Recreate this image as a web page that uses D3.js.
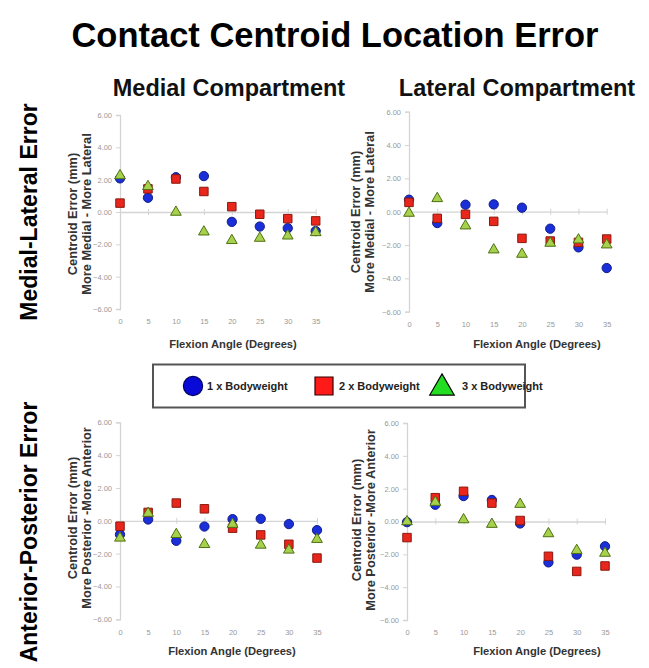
<!DOCTYPE html>
<html>
<head>
<meta charset="utf-8">
<script src="https://cdn.jsdelivr.net/npm/d3@7"></script>
<style>
  html, body { margin: 0; padding: 0; background: #fff; }
  svg { display: block; font-family: "Liberation Sans", Arial, sans-serif; }
</style>
</head>
<body>
<svg id="chart" width="649" height="668"></svg>
<script>
// ---- Data ----
const angles = [0, 5, 10, 15, 20, 25, 30, 35];
const seriesNames = ["1 x Bodyweight", "2 x Bodyweight", "3 x Bodyweight"];
const yTicks = [-6, -4, -2, 0, 2, 4, 6];

// Medial compartment, medial-lateral error (mm)
const medialML_1x = [2.08, 0.88, 2.15, 2.22, -0.61, -0.90, -1.00, -1.18];
const medialML_2x = [0.55, 1.43, 2.04, 1.27, 0.33, -0.14, -0.41, -0.55];
const medialML_3x = [2.30, 1.63, 0.04, -1.18, -1.71, -1.57, -1.43, -1.22];

// Lateral compartment, medial-lateral error (mm)
const lateralML_1x = [0.72, -0.68, 0.42, 0.44, 0.24, -1.02, -2.14, -3.38];
const lateralML_2x = [0.56, -0.40, -0.16, -0.58, -1.60, -1.76, -1.84, -1.64];
const lateralML_3x = [-0.04, 0.84, -0.80, -2.24, -2.50, -1.84, -1.64, -1.94];

// Medial compartment, anterior-posterior error (mm)
const medialAP_1x = [-0.84, 0.08, -1.22, -0.35, 0.10, 0.12, -0.20, -0.57];
const medialAP_2x = [-0.33, 0.51, 1.08, 0.73, -0.45, -0.86, -1.43, -2.27];
const medialAP_3x = [-1.00, 0.51, -0.78, -1.39, -0.16, -1.43, -1.73, -1.08];

// Lateral compartment, anterior-posterior error (mm)
const lateralAP_1x = [-0.04, 1.02, 1.55, 1.31, -0.12, -2.49, -2.02, -1.51];
const lateralAP_2x = [-0.98, 1.45, 1.84, 1.12, 0.06, -2.12, -3.04, -2.71];
const lateralAP_3x = [0.04, 1.22, 0.16, -0.12, 1.10, -0.69, -1.71, -1.88];

// ---- Layout ----
const panels = [
  { series: [medialML_1x, medialML_2x, medialML_3x], x0: 120, x1: 315.7, yTop: 115, yBot: 309,
    yLab: ["Centroid Error (mm)", "More Medial - More Lateral"], labX: 72.5, labY: 214, titleX: 233, titleY: 348 },
  { series: [lateralML_1x, lateralML_2x, lateralML_3x], x0: 409, x1: 606.7, yTop: 111.7, yBot: 311.7,
    yLab: ["Centroid Error (mm)", "More Medial - More Lateral"], labX: 355.5, labY: 212, titleX: 537, titleY: 348 },
  { series: [medialAP_1x, medialAP_2x, medialAP_3x], x0: 120, x1: 317, yTop: 422.3, yBot: 619.3,
    yLab: ["Centroid Error (mm)", "More Posterior -More Anterior"], labX: 72.5, labY: 518, titleX: 232, titleY: 655 },
  { series: [lateralAP_1x, lateralAP_2x, lateralAP_3x], x0: 407, x1: 605, yTop: 423, yBot: 620,
    yLab: ["Centroid Error (mm)", "More Posterior -More Anterior"], labX: 357, labY: 520, titleX: 537, titleY: 655 }
];

const svg = d3.select("#chart");
svg.append("rect").attr("width", 649).attr("height", 668).attr("fill", "#fff");

// Titles
svg.append("text").attr("x", 335).attr("y", 47).attr("text-anchor", "middle")
  .attr("font-size", 34.5).attr("font-weight", "bold").attr("fill", "#000")
  .text("Contact Centroid Location Error");
svg.append("text").attr("x", 229).attr("y", 96).attr("text-anchor", "middle")
  .attr("font-size", 23.5).attr("font-weight", "bold").attr("fill", "#111")
  .text("Medial Compartment");
svg.append("text").attr("x", 517).attr("y", 96).attr("text-anchor", "middle")
  .attr("font-size", 23.5).attr("font-weight", "bold").attr("fill", "#111")
  .text("Lateral Compartment");

// Row labels
svg.append("text").attr("transform", "translate(37,212) rotate(-90)").attr("text-anchor", "middle")
  .attr("font-size", 23).attr("font-weight", "bold").attr("fill", "#000")
  .text("Medial-Lateral Error");
svg.append("text").attr("transform", "translate(37,532) rotate(-90)").attr("text-anchor", "middle")
  .attr("font-size", 23).attr("font-weight", "bold").attr("fill", "#000")
  .text("Anterior-Posterior Error");

const markerStyles = [
  { shape: d3.symbolCircle, size: 68, fill: "#1a2fd8", stroke: "#101c8a" },
  { shape: d3.symbolSquare, size: 72, fill: "#e8261c", stroke: "#8a1a10" },
  { shape: d3.symbolTriangle, size: 50, fill: "#a6d14a", stroke: "#4f7016" }
];

panels.forEach(p => {
  const x = d3.scaleLinear().domain([0, 35]).range([p.x0, p.x1]);
  const y = d3.scaleLinear().domain([-6, 6]).range([p.yBot, p.yTop]);
  const g = svg.append("g");

  // y axis
  const yAxis = d3.axisLeft(y).tickValues(yTicks).tickSize(4).tickPadding(4)
    .tickFormat(d => d3.format(".2f")(d));
  const ya = g.append("g").attr("transform", `translate(${x(0)},0)`).call(yAxis);
  ya.select(".domain").attr("stroke", "#d4d4d4").attr("stroke-width", 1.3);
  ya.selectAll(".tick line").attr("stroke", "#d4d4d4");
  ya.selectAll(".tick text").attr("fill", "#999").attr("font-size", 7.5).attr("font-family", "Liberation Sans, Arial, sans-serif");

  // x axis line at zero with ticks crossing
  const xAxis = d3.axisBottom(x).tickValues(angles).tickSize(0).tickSizeOuter(0).tickFormat("");
  const xa = g.append("g").attr("transform", `translate(0,${y(0)})`).call(xAxis);
  xa.select(".domain").attr("stroke", "#d4d4d4").attr("stroke-width", 1.3);
  xa.selectAll(".tick").append("line").attr("y1", -3).attr("y2", 3).attr("stroke", "#d4d4d4");

  // x tick labels at bottom
  const xl = d3.axisBottom(x).tickValues(angles).tickSize(0).tickPadding(0);
  const xla = g.append("g").attr("transform", `translate(0,${y(-6) + 10})`).call(xl);
  xla.select(".domain").remove();
  xla.selectAll(".tick text").attr("fill", "#999").attr("font-size", 7.5).attr("font-family", "Liberation Sans, Arial, sans-serif");

  // axis titles
  g.append("text").attr("x", p.titleX).attr("y", p.titleY).attr("text-anchor", "middle")
    .attr("font-size", 11.2).attr("font-weight", "bold").attr("fill", "#333")
    .text("Flexion Angle (Degrees)");
  p.yLab.forEach((t, i) => {
    g.append("text").attr("transform", `translate(${p.labX + i * 14},${p.labY}) rotate(-90)`)
      .attr("text-anchor", "middle").attr("dy", "0.35em")
      .attr("font-size", 12.8).attr("font-weight", "bold").attr("fill", "#333")
      .text(t);
  });

  // markers
  p.series.forEach((vals, si) => {
    const st = markerStyles[si];
    const sym = d3.symbol().type(st.shape).size(st.size);
    g.append("g").selectAll("path").data(vals).join("path")
      .attr("d", sym)
      .attr("transform", (d, i) => `translate(${x(angles[i])},${y(d) + (si === 2 ? 0.8 : 0)})`)
      .attr("fill", st.fill).attr("stroke", st.stroke).attr("stroke-width", 1);
  });
});

// Legend
const lg = svg.append("g");
lg.append("rect").attr("x", 153).attr("y", 364.5).attr("width", 372).attr("height", 43)
  .attr("fill", "#fff").attr("stroke", "#555").attr("stroke-width", 2);
const legendStyles = [
  { shape: d3.symbolCircle, size: 290, fill: "#0a0ad8", stroke: "#050560", cx: 193, tx: 207 },
  { shape: d3.symbolSquare, size: 324, fill: "#ff1a1a", stroke: "#300", cx: 324, tx: 339 },
  { shape: d3.symbolTriangle, size: 260, fill: "#22dd22", stroke: "#000", cx: 442, tx: 462 }
];
seriesNames.forEach((name, i) => {
  const s = legendStyles[i];
  lg.append("path").attr("d", d3.symbol().type(s.shape).size(s.size)())
    .attr("transform", `translate(${s.cx},${i === 2 ? 388 : 386})`)
    .attr("fill", s.fill).attr("stroke", s.stroke).attr("stroke-width", 1.2);
  lg.append("text").attr("x", s.tx).attr("y", 386).attr("dy", "0.35em")
    .attr("font-size", 11).attr("font-weight", "bold").attr("fill", "#222").text(name);
});
</script>
</body>
</html>
